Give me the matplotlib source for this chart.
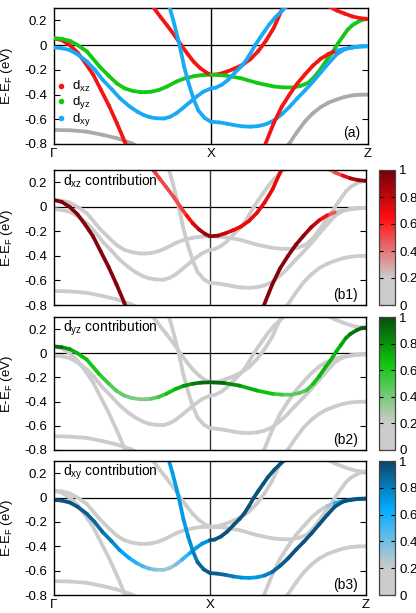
import numpy as np
import matplotlib.pyplot as plt
from matplotlib.collections import LineCollection
from matplotlib.colors import LinearSegmentedColormap
from matplotlib.cm import ScalarMappable
from matplotlib.lines import Line2D

plt.rcParams['font.family'] = ['Liberation Sans', 'DejaVu Sans']
plt.rcParams['font.size'] = 8.5
plt.rcParams['mathtext.default'] = 'regular'
plt.rcParams['axes.unicode_minus'] = False

# k path: Gamma=0, X=1, Z=2 ; energies in eV ; orbital weights per point
k_path = [0, 1, 2]
k_labels = ['Γ', 'X', 'Z']
y_ticks = [-0.8, -0.6, -0.4, -0.2, 0, 0.2]
y_ticklabels = ['-0.8', '-0.6', '-0.4', '-0.2', '0', '0.2']
cb_ticks = [0, 0.2, 0.4, 0.6, 0.8, 1]
cb_ticklabels = ['0', '0.2', '0.4', '0.6', '0.8', '1']

# dxz band, steep, Gamma-X
b1_k = [0, 0.05, 0.10, 0.15, 0.20, 0.25, 0.30, 0.35, 0.40, 0.45, 0.46]
b1_e = [0.055, 0.04, 0.0, -0.06, -0.145, -0.24, -0.365, -0.49, -0.63, -0.78, -0.81]
b1_xz = [0.95] * 11

# dyz band, Gamma-X
b2_k = [0, 0.05, 0.10, 0.15, 0.21, 0.29, 0.35, 0.40, 0.45, 0.50, 0.55, 0.58, 0.62, 0.67,
        0.72, 0.78, 0.83, 0.89, 0.94, 1.0]
b2_e = [0.057, 0.05, 0.035, 0.0, -0.052, -0.173, -0.25, -0.31, -0.35, -0.37, -0.38, -0.381,
        -0.377, -0.362, -0.335, -0.295, -0.27, -0.252, -0.243, -0.24]
b2_yz = [0.95, 0.85, 0.75, 0.7, 0.65, 0.6, 0.5, 0.45, 0.4, 0.38, 0.36, 0.36, 0.4, 0.5,
         0.6, 0.7, 0.75, 0.85, 0.9, 0.95]

# dxy band, lower, Gamma-X
b3_k = [0, 0.05, 0.10, 0.15, 0.21, 0.26, 0.31, 0.37, 0.42, 0.48, 0.53, 0.57, 0.61, 0.65,
        0.70, 0.74, 0.78, 0.82, 0.87, 0.91, 0.95, 1.0]
b3_e = [-0.019, -0.025, -0.04, -0.075, -0.133, -0.2, -0.281, -0.36, -0.43, -0.495, -0.538,
        -0.565, -0.583, -0.592, -0.594, -0.58, -0.551, -0.51, -0.457, -0.415, -0.378, -0.35]
b3_xy = [0.95, 0.95, 0.95, 0.93, 0.9, 0.88, 0.85, 0.78, 0.7, 0.62, 0.55, 0.47, 0.4, 0.33,
         0.3, 0.3, 0.33, 0.45, 0.6, 0.68, 0.72, 0.75]

# dxz band coming down into X
b4_k = [0.63, 0.68, 0.72, 0.77, 0.81, 0.85, 0.89, 0.93, 0.97, 1.0]
b4_e = [0.31, 0.225, 0.16, 0.075, 0.0, -0.07, -0.135, -0.185, -0.222, -0.24]
b4_xz = [0.55, 0.52, 0.5, 0.5, 0.5, 0.6, 0.7, 0.8, 0.9, 0.95]

# dxy band, steep, into X
b5_k = [0.735, 0.76, 0.79, 0.81, 0.83, 0.86, 0.89, 0.92, 0.96, 1.0]
b5_e = [0.31, 0.20, 0.05, -0.06, -0.18, -0.32, -0.44, -0.53, -0.59, -0.62]
b5_xy = [0.7, 0.7, 0.7, 0.7, 0.7, 0.72, 0.78, 0.85, 0.9, 0.95]

# dxz band, X up
b6_k = [1.0, 1.05, 1.1, 1.15, 1.2, 1.25, 1.3, 1.35, 1.4, 1.46]
b6_e = [-0.24, -0.235, -0.215, -0.19, -0.16, -0.115, -0.05, 0.035, 0.14, 0.31]
b6_xz = [0.95, 0.85, 0.75, 0.7, 0.7, 0.7, 0.7, 0.7, 0.7, 0.7]

# dyz band, X-Z
b7_k = [1.0, 1.09, 1.19, 1.30, 1.40, 1.46, 1.52, 1.57, 1.62, 1.66, 1.70, 1.74, 1.77, 1.81,
        1.84, 1.87, 1.90, 1.94, 1.97, 2.0]
b7_e = [-0.24, -0.246, -0.268, -0.308, -0.335, -0.342, -0.343, -0.33, -0.305, -0.255, -0.19,
        -0.115, -0.065, 0.016, 0.07, 0.124, 0.16, 0.191, 0.207, 0.213]
b7_yz = [0.95, 0.9, 0.75, 0.7, 0.6, 0.5, 0.45, 0.45, 0.5, 0.6, 0.7, 0.7, 0.7, 0.7, 0.72,
         0.78, 0.85, 0.9, 0.95, 0.95]

# dxy band, X up
b8_k = [1.0, 1.03, 1.07, 1.11, 1.15, 1.19, 1.22, 1.25, 1.28, 1.31, 1.34, 1.37, 1.41, 1.45, 1.48]
b8_e = [-0.35, -0.345, -0.32, -0.28, -0.227, -0.175, -0.13, -0.07, -0.003, 0.055, 0.11,
        0.165, 0.225, 0.275, 0.31]
b8_xy = [0.95] * 15

# dxy band, X-Z lower
b9_k = [1.0, 1.05, 1.1, 1.15, 1.2, 1.25, 1.3, 1.35, 1.4, 1.45, 1.5, 1.55, 1.6, 1.65, 1.7,
        1.75, 1.8, 1.85, 1.9, 1.95, 2.0]
b9_e = [-0.62, -0.625, -0.635, -0.648, -0.657, -0.66, -0.655, -0.64, -0.61, -0.56, -0.5,
        -0.43, -0.365, -0.295, -0.22, -0.145, -0.075, -0.035, -0.018, -0.01, -0.008]
b9_xy = [0.95, 0.9, 0.85, 0.8, 0.72, 0.7, 0.7, 0.75, 0.85, 0.9, 0.95, 0.95, 0.95, 0.95,
         0.95, 0.95, 0.95, 0.95, 0.95, 0.95, 0.95]

# dxz band rising from below in X-Z
b10_k = [1.34, 1.40, 1.45, 1.50, 1.55, 1.60, 1.65, 1.70, 1.75, 1.80, 1.85, 1.90, 1.95, 2.0]
b10_e = [-0.82, -0.63, -0.50, -0.40, -0.31, -0.235, -0.165, -0.11, -0.07, -0.045, -0.03,
         -0.02, -0.012, -0.01]
b10_xz = [0.95, 0.95, 0.95, 0.95, 0.95, 0.92, 0.85, 0.72, 0.6, 0.35, 0.1, 0.05, 0.05, 0.05]
b10_xy = [0, 0, 0, 0, 0, 0, 0.02, 0.05, 0.1, 0.5, 0.65, 0.75, 0.85, 0.9]

# dxz band near Z, upper
b11_k = [1.755, 1.80, 1.85, 1.90, 1.95, 2.0]
b11_e = [0.31, 0.28, 0.255, 0.232, 0.217, 0.212]
b11_xz = [0.3, 0.4, 0.6, 0.8, 0.9, 0.95]

# non t2g bands
g1_k = [0, 0.1, 0.208, 0.314, 0.399, 0.495, 0.52]
g1_e = [-0.686, -0.689, -0.70, -0.727, -0.753, -0.794, -0.81]
g2_k = [1.49, 1.50, 1.55, 1.60, 1.65, 1.70, 1.75, 1.80, 1.85, 1.90, 1.95, 2.0]
g2_e = [-0.81, -0.794, -0.70, -0.615, -0.55, -0.50, -0.465, -0.44, -0.42, -0.407, -0.401, -0.40]


def band(k, e, xz=None, yz=None, xy=None):
    n = len(k)
    z = [0.0] * n
    return {'k': np.array(k), 'e': np.array(e),
            'xz': np.array(xz if xz else z), 'yz': np.array(yz if yz else z),
            'xy': np.array(xy if xy else z)}


bands = [band(g1_k, g1_e), band(g2_k, g2_e),
         band(b1_k, b1_e, xz=b1_xz), band(b2_k, b2_e, yz=b2_yz), band(b3_k, b3_e, xy=b3_xy),
         band(b4_k, b4_e, xz=b4_xz), band(b5_k, b5_e, xy=b5_xy), band(b6_k, b6_e, xz=b6_xz),
         band(b7_k, b7_e, yz=b7_yz), band(b8_k, b8_e, xy=b8_xy), band(b9_k, b9_e, xy=b9_xy),
         band(b10_k, b10_e, xz=b10_xz, xy=b10_xy), band(b11_k, b11_e, xz=b11_xz)]

orbs = ['xz', 'yz', 'xy']
orb_colors = {'xz': '#f41414', 'yz': '#14c814', 'xy': '#1aaaf5'}
gray_a = '#aaaaaa'
gray_b = (0.8, 0.8, 0.8)
cmaps = {
    'xz': LinearSegmentedColormap.from_list('xz', [(0, gray_b), (0.2, gray_b), (0.65, (1.0, 0.05, 0.05)), (1, (0.45, 0.0, 0.05))]),
    'yz': LinearSegmentedColormap.from_list('yz', [(0, gray_b), (0.2, gray_b), (0.65, (0.05, 0.78, 0.05)), (1, (0.03, 0.3, 0.05))]),
    'xy': LinearSegmentedColormap.from_list('xy', [(0, gray_b), (0.2, gray_b), (0.65, (0.0, 0.67, 1.0)), (1, (0.05, 0.27, 0.42))]),
}


def segments(b):
    pts = np.column_stack([b['k'], b['e']])
    segs = np.stack([pts[:-1], pts[1:]], axis=1)
    w = {o: 0.5 * (b[o][:-1] + b[o][1:]) for o in orbs}
    return segs, w


W, H = 416, 613
fig = plt.figure(figsize=(W / 100, H / 100), dpi=100)
lw = 2.7


def fr(l, r, t, bt):
    return [l / W, 1 - bt / H, (r - l) / W, (bt - t) / H]


ax_a = fig.add_axes(fr(54, 368, 8, 144))
ax_b = [fig.add_axes(fr(54, 366, 170, 305)), fig.add_axes(fr(54, 366, 317, 450)),
        fig.add_axes(fr(54, 366, 461, 595))]
cax_b = [fig.add_axes(fr(379, 395, 170, 305)), fig.add_axes(fr(379, 395, 317, 450)),
         fig.add_axes(fr(379, 395, 461, 595))]


def style(ax, vcol, xlabels):
    ax.set_xlim(0, 2)
    ax.set_ylim(-0.8, 0.3)
    ax.axhline(0, color='k', lw=0.9, zorder=1)
    ax.axvline(1, color=vcol, lw=1.0, zorder=1)
    ax.set_yticks(y_ticks)
    ax.set_yticklabels(y_ticklabels)
    ax.set_xticks(k_path)
    ax.set_xticklabels(k_labels if xlabels else [])
    ax.tick_params(axis='y', direction='in', left=True, right=True, length=4, width=0.8, pad=5)
    ax.tick_params(axis='x', direction='in', length=0, pad=3)
    ax.tick_params(labelsize=9.5)
    for s in ax.spines.values():
        s.set_linewidth(1.0)
    ax.set_ylabel('E-E$_F$ (eV)', fontsize=9.5)
    ax.yaxis.set_label_coords(-0.125, 0.5)


# panel (a): colour by dominant orbital
segs_gray, segs_col, cols = [], [], []
for b in bands:
    segs, w = segments(b)
    for i, s in enumerate(segs):
        ws = [w[o][i] for o in orbs]
        if max(ws) < 0.15:
            segs_gray.append(s)
        else:
            segs_col.append(s)
            cols.append(orb_colors[orbs[int(np.argmax(ws))]])
ax_a.add_collection(LineCollection(segs_gray, colors=gray_a, linewidths=lw, capstyle='round', zorder=2))
ax_a.add_collection(LineCollection(segs_col, colors=cols, linewidths=lw, capstyle='round', zorder=3))
style(ax_a, 'k', True)
handles = [Line2D([], [], ls='', marker='o', ms=3.0, color=orb_colors[o]) for o in orbs]
ax_a.legend(handles, ['d$_{xz}$', 'd$_{yz}$', 'd$_{xy}$'], loc='center left',
            bbox_to_anchor=(0.0, 0.296), frameon=False, handlelength=0.6,
            handletextpad=0.6, labelspacing=0.0, fontsize=9.5, borderpad=0.2,
            borderaxespad=0.0)
ax_a.text(0.975, 0.08, '(a)', transform=ax_a.transAxes, ha='right', va='center', fontsize=10)

# panels (b1)-(b3): colour by orbital weight
tags = ['(b1)', '(b2)', '(b3)']
for j, o in enumerate(orbs):
    ax = ax_b[j]
    all_segs, all_w = [], []
    for b in bands:
        segs, w = segments(b)
        all_segs.extend(list(segs))
        all_w.extend(list(w[o]))
    order = np.argsort(all_w, kind='stable')
    segs_sorted = [all_segs[i] for i in order]
    w_sorted = np.array(all_w)[order]
    ax.add_collection(LineCollection(segs_sorted, colors=cmaps[o](w_sorted), linewidths=lw,
                                     capstyle='round', zorder=2))
    style(ax, '#333333', j == 2)
    ax.text(0.03, 0.915, 'd$_{%s}$ contribution' % o, transform=ax.transAxes,
            ha='left', va='center', fontsize=10)
    ax.text(0.975, 0.075, tags[j], transform=ax.transAxes, ha='right', va='center', fontsize=10)

    sm = ScalarMappable(cmap=cmaps[o])
    sm.set_clim(0, 1)
    cb = fig.colorbar(sm, cax=cax_b[j], ticks=cb_ticks)
    cb.ax.set_yticklabels(cb_ticklabels)
    cb.ax.tick_params(direction='in', left=True, right=True, length=3, width=0.8,
                      labelsize=9.5, pad=3)
    cb.outline.set_linewidth(0.9)
    cb.outline.set_edgecolor('#444444')

fig.savefig('out.png', dpi=100)
